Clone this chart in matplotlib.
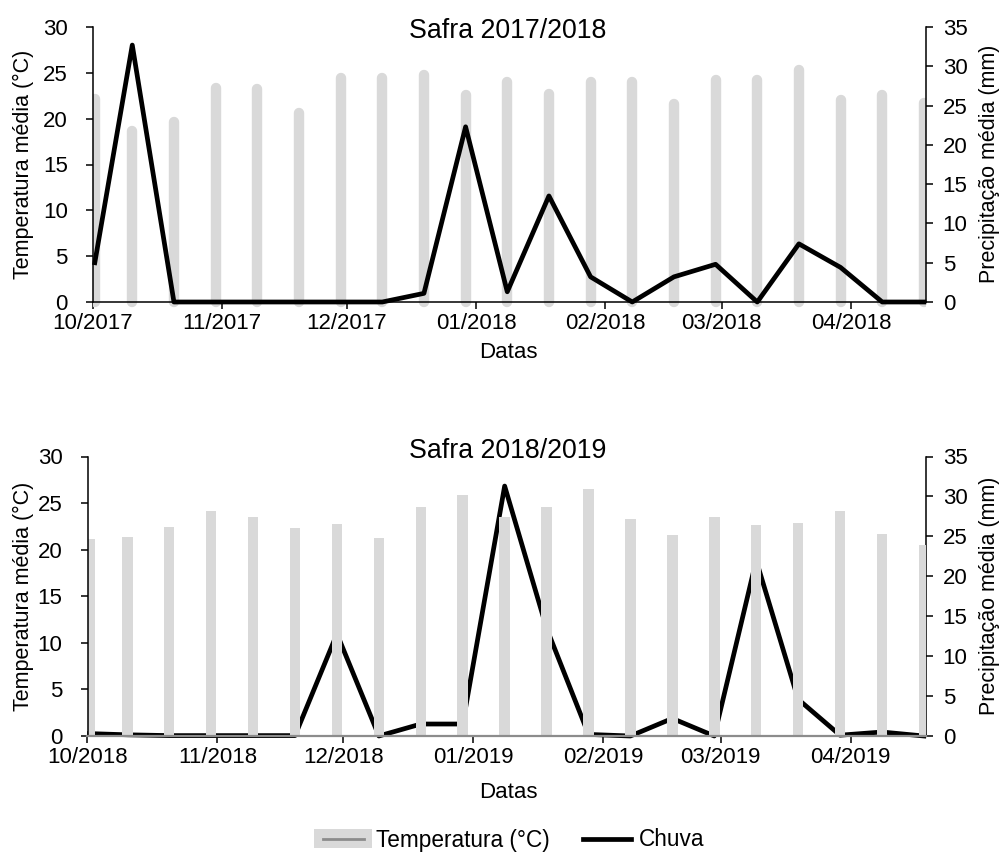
import numpy as np
import matplotlib
matplotlib.use('Agg')
import matplotlib.pyplot as plt
import matplotlib.dates as mdates
from matplotlib.patches import Rectangle
from matplotlib.lines import Line2D

plt.rcParams['font.family'] = ['Liberation Sans', 'DejaVu Sans']
plt.rcParams['font.size'] = 16

# dias contados a partir de 1/10 de cada safra (decendios)
dias = [0, 9, 19, 29, 39, 49, 59, 69, 79, 89, 99,
        109, 119, 129, 139, 149, 159, 169, 179, 189, 199]

temp_1718 = [22.2, 18.7, 19.6, 23.3, 23.2, 20.6, 24.4, 24.4, 24.8, 22.6, 24.0,
             22.7, 24.0, 24.0, 21.6, 24.2, 24.2, 25.3, 22.0, 22.6, 21.7]
chuva_1718 = [5.0, 32.7, 0, 0, 0, 0, 0, 0, 1.1, 22.3, 1.3,
              13.5, 3.2, 0, 3.2, 4.8, 0, 7.4, 4.4, 0, 0]

temp_1819 = [21.1, 21.4, 22.4, 24.2, 23.5, 22.3, 22.8, 21.3, 24.6, 25.9, 23.5,
             24.6, 26.5, 23.3, 21.6, 23.5, 22.7, 22.9, 24.1, 21.7, 20.5]
chuva_1819 = [0.3, 0.15, 0.05, 0.05, 0.05, 0.05, 12.8, 0, 1.5, 1.5, 31.3,
              13.5, 0.2, 0, 2.2, 0, 22.0, 4.6, 0.1, 0.5, 0]

cinza = '#d9d9d9'
W, H = 1007, 852


def caixa(l, r, t, b):
    return [l / W, 1 - b / H, (r - l) / W, (b - t) / H]


class HandlerTemp:
    # retangulo cinza com uma linha mais escura no meio, como no Excel
    def legend_artist(self, legend, orig_handle, fontsize, handlebox):
        x0, y0 = -handlebox.xdescent, -handlebox.ydescent
        w, h = handlebox.width, handlebox.height
        tr = handlebox.get_transform()
        r = Rectangle((x0, y0), w, h, facecolor=cinza, edgecolor='none', transform=tr)
        ln = Line2D([x0 + 0.16 * w, x0 + 0.86 * w], [y0 + h / 2] * 2,
                    color='#8c8c8c', lw=2, transform=tr)
        handlebox.add_artist(r)
        handlebox.add_artist(ln)
        return r


class HandlerChuva:
    def legend_artist(self, legend, orig_handle, fontsize, handlebox):
        x0, y0 = -handlebox.xdescent, -handlebox.ydescent
        w, h = handlebox.width, handlebox.height
        ln = Line2D([x0 + 0.1 * w, x0 + 0.92 * w], [y0 + h / 2] * 2,
                    color='black', lw=3.4, transform=handlebox.get_transform())
        handlebox.add_artist(ln)
        return ln


def monta(ax, inicio, temp, chuva, barras_redondas):
    x0 = mdates.date2num(np.datetime64(inicio))
    x = x0 + np.array(dias) + 0.5
    axr = ax.twinx()

    if barras_redondas:
        vl = ax.vlines(x, 0, temp, colors=cinza, linewidth=7.5, capstyle='round')
        vl.set_clip_path(Rectangle((0, -0.05), 1, 1.1, transform=ax.transAxes))
        axr.plot(x, chuva, color='black', lw=3.4, clip_on=False)
    else:
        ax.bar(x, temp, width=2.5, color=cinza)
        axr.plot(x, chuva, color='black', lw=3.4, clip_on=False)
        # barras por cima da linha
        ax.set_zorder(axr.get_zorder() + 1)
        ax.patch.set_visible(False)

    ax.set_xlim(x0, x0 + 200)
    ax.set_ylim(0, 30)
    ax.set_yticks(range(0, 31, 5))
    axr.set_ylim(0, 35)
    axr.set_yticks(range(0, 36, 5))
    ax.xaxis.set_major_locator(mdates.MonthLocator())
    ax.xaxis.set_major_formatter(mdates.DateFormatter('%m/%Y'))

    for a in (ax, axr):
        for s in a.spines.values():
            s.set_linewidth(1.1)
        a.spines['top'].set_visible(False)
    ax.spines['right'].set_visible(False)
    axr.spines['left'].set_visible(False)
    axr.spines['bottom'].set_visible(False)
    ax.tick_params(axis='y', length=5, width=1.1, pad=13)
    ax.tick_params(axis='x', length=5, width=1.1, pad=3)
    axr.tick_params(axis='y', length=5, width=1.1, pad=7)
    return axr


fig = plt.figure(figsize=(10.07, 8.52), dpi=100)
ax1 = fig.add_axes(caixa(92.7, 926, 27, 302))
ax2 = fig.add_axes(caixa(87.5, 926, 456.5, 736))

monta(ax1, '2017-10-01', temp_1718, chuva_1718, True)
monta(ax2, '2018-10-01', temp_1819, chuva_1819, False)
ax2.spines['bottom'].set_color('#8c8c8c')
ax2.spines['bottom'].set_linewidth(1.6)

# textos
fig.text(508 / W, 1 - 38 / H, 'Safra 2017/2018', ha='center', va='baseline', fontsize=19.3)
fig.text(508 / W, 1 - 458 / H, 'Safra 2018/2019', ha='center', va='baseline', fontsize=19.3)
fig.text(508 / W, 1 - 358 / H, 'Datas', ha='center', va='baseline')
fig.text(508 / W, 1 - 798 / H, 'Datas', ha='center', va='baseline')
for yc in (164, 596):
    fig.text(23 / W, 1 - yc / H, 'Temperatura média (°C)', rotation=90,
             ha='center', va='center', fontsize=15.5)
    fig.text(990 / W, 1 - yc / H, 'Precipitação média (mm)', rotation=90,
             ha='center', va='center', fontsize=15.5)

h_temp = Rectangle((0, 0), 1, 1)
h_chuva = Line2D([], [])
fig.legend([h_temp, h_chuva], ['Temperatura (°C)', 'Chuva'],
           handler_map={Rectangle: HandlerTemp(), Line2D: HandlerChuva()},
           loc='center', bbox_to_anchor=(509 / W, 1 - 840 / H), ncol=2,
           frameon=False, fontsize=16.3, handlelength=2.6, handleheight=0.95,
           handletextpad=0.15, columnspacing=1.2, borderpad=0)

fig.savefig('out.png', dpi=100)
